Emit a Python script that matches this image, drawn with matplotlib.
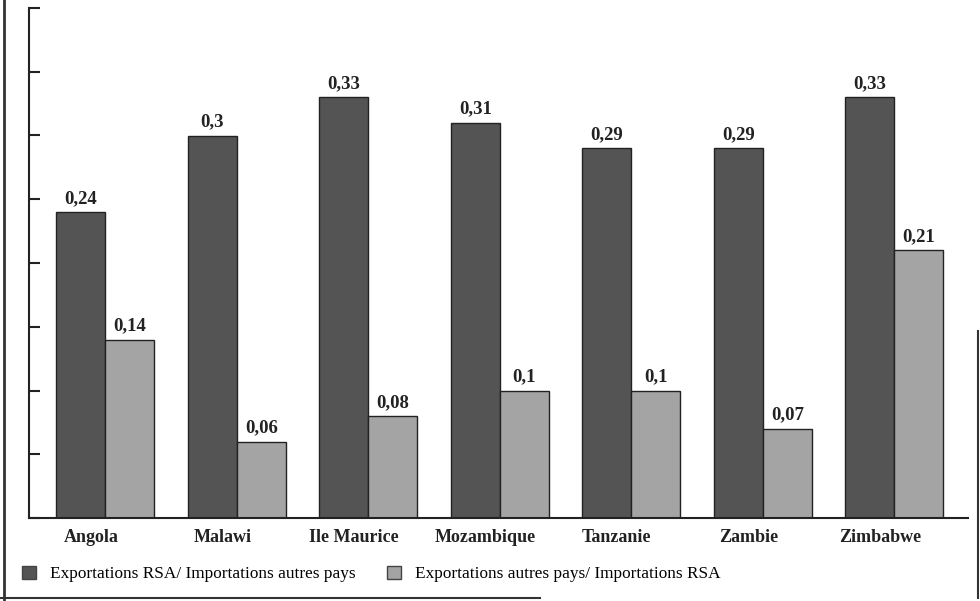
import matplotlib.pyplot as plt
import numpy as np
from matplotlib.lines import Line2D
from matplotlib.patches import Patch

plt.rcParams['font.family'] = ['Liberation Serif', 'DejaVu Serif']

pays = ['Angola', 'Malawi', 'Ile Maurice', 'Mozambique', 'Tanzanie', 'Zambie', 'Zimbabwe']
exp_rsa = [0.24, 0.30, 0.33, 0.31, 0.29, 0.29, 0.33]
exp_autres = [0.14, 0.06, 0.08, 0.10, 0.10, 0.07, 0.21]
noms_series = ['Exportations RSA/ Importations autres pays',
               'Exportations autres pays/ Importations RSA']

fonce = '#545454'
clair = '#a4a4a4'

fig = plt.figure(figsize=(9.8, 6.01), dpi=100)
ax = fig.add_axes([29 / 980, 1 - 518 / 601, (968 - 29) / 980, (518 - 8) / 601])

x = np.arange(len(pays))
w = 0.372
b1 = ax.bar(x - w / 2, exp_rsa, w, color=fonce, edgecolor='#222222', linewidth=1.0)
b2 = ax.bar(x + w / 2, exp_autres, w, color=clair, edgecolor='#222222', linewidth=1.0)

def etiquette(v):
    return ('%g' % v).replace('.', ',')

for barres, vals in ((b1, exp_rsa), (b2, exp_autres)):
    for r, v in zip(barres, vals):
        ax.text(r.get_x() + r.get_width() / 2, v + 0.004, etiquette(v),
                ha='center', va='bottom', fontsize=13.5, fontweight='bold', color='#222222')

ax.set_xlim(-0.58, 6.56)
ax.set_ylim(0, 0.4)
ax.set_yticks(np.arange(0, 0.401, 0.05))
ax.tick_params(axis='y', direction='in', length=8, width=1.5, labelleft=False, color='#222222')
ax.set_xticks(x - 0.11)
ax.set_xticklabels(pays, fontsize=13, fontweight='bold', color='#222222')
ax.tick_params(axis='x', length=0, pad=8)
for s in ('top', 'right'):
    ax.spines[s].set_visible(False)
for s in ('left', 'bottom'):
    ax.spines[s].set_linewidth(1.5)
    ax.spines[s].set_color('#222222')

poignees = [Patch(facecolor=fonce, edgecolor='#444444'),
            Patch(facecolor=clair, edgecolor='#444444')]
fig.legend(poignees, noms_series, loc='lower left', bbox_to_anchor=(0.007, 0.005),
           ncol=2, frameon=False, fontsize=12.4, handlelength=0.8, handleheight=0.8,
           handletextpad=0.8, columnspacing=1.85)

# bord du cadre scanné
fig.add_artist(Line2D([4 / 980, 4 / 980], [0, 1], color='#333333', lw=2))
fig.add_artist(Line2D([0, 540 / 980], [3 / 601, 3 / 601], color='#333333', lw=1.5))
fig.add_artist(Line2D([978 / 980, 978 / 980], [3 / 601, 270 / 601], color='#333333', lw=1.5))

fig.savefig('out.png', dpi=100)
